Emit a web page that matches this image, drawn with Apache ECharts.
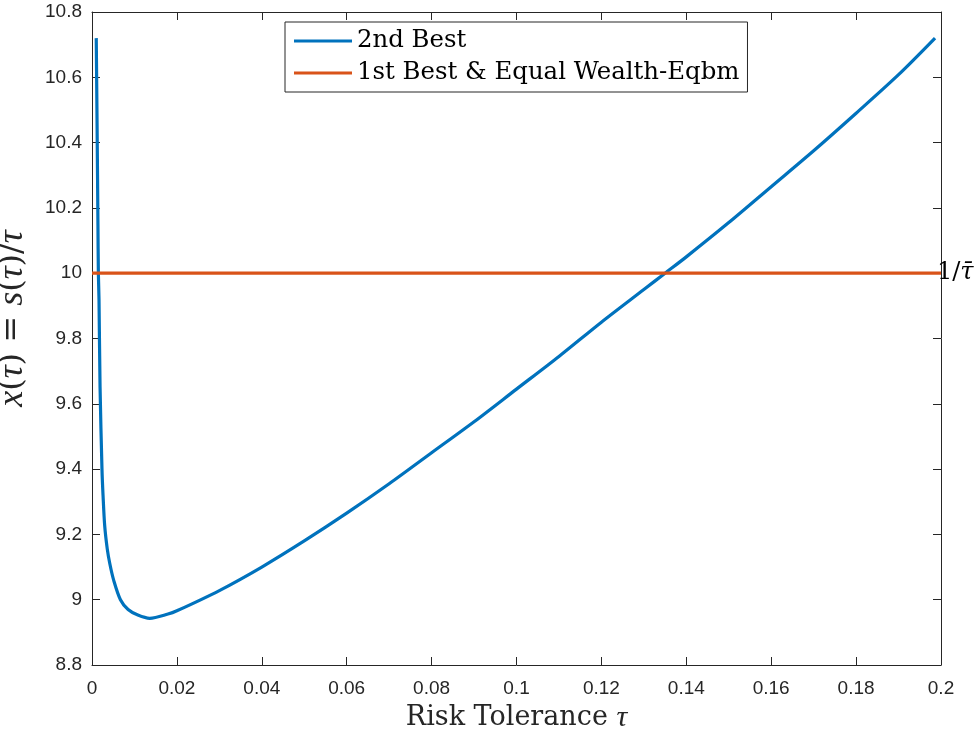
<!DOCTYPE html>
<html>
<head>
<meta charset="utf-8">
<script src="https://cdn.jsdelivr.net/npm/echarts@6/dist/echarts.min.js"></script>
<style>
  html, body { margin: 0; padding: 0; background: #fff; }
  #chart { width: 980px; height: 730px; }
</style>
</head>
<body>
<div id="chart"></div>
<script>
// values
var tau = [0.001, 0.0012, 0.0014, 0.0015, 0.00165, 0.0019, 0.00235, 0.0026, 0.003, 0.0036, 0.0042, 0.0051, 0.0067,
  0.0085, 0.0108, 0.0136, 0.0179, 0.02, 0.03, 0.04, 0.05, 0.06, 0.07, 0.08, 0.09, 0.1, 0.11, 0.12, 0.13, 0.135,
  0.14, 0.15, 0.16, 0.17, 0.18, 0.19, 0.1986];
var secondBest = [10.72, 10.45, 10.15, 10.0, 9.92, 9.65, 9.4, 9.32, 9.225, 9.155, 9.11, 9.06, 9.0,
  8.97, 8.953, 8.943, 8.956, 8.966, 9.028, 9.1, 9.18, 9.265, 9.355, 9.45, 9.545, 9.645, 9.745, 9.85, 9.95, 10.0,
  10.05, 10.155, 10.265, 10.375, 10.49, 10.608, 10.72];
var firstBestTau = [0, 0.2];
var firstBest = [10, 10];

var seriesNames = ['2nd Best', '1st Best & Equal Wealth-Eqbm'];

var ink = '#262626';
var serif = '"DejaVu Serif", "Liberation Serif", serif';
var mathIt = '"Liberation Serif", serif';

function pairs(xs, ys) {
  return xs.map(function (x, i) { return [x, ys[i]]; });
}
function fmt(v) {
  return String(parseFloat(v.toFixed(3)));
}

var chart = echarts.init(document.getElementById('chart'));

var axisCommon = {
  axisLine: { show: true, onZero: false, lineStyle: { color: ink, width: 1 } },
  axisTick: { show: true, inside: true, length: 8, lineStyle: { color: ink } },
  splitLine: { show: false }
};

chart.setOption({
  animation: false,
  grid: { left: 92, right: 39, top: 12, bottom: 65, containLabel: false, outerBoundsMode: 'none' },
  legend: {
    orient: 'vertical',
    left: 285,
    top: 22,
    data: seriesNames,
    icon: 'rect',
    itemWidth: 58,
    itemHeight: 3,
    itemGap: 8,
    padding: [7, 8, 7, 9],
    backgroundColor: '#fff',
    borderColor: ink,
    borderWidth: 1,
    borderRadius: 0,
    textStyle: { fontFamily: serif, fontSize: 24.4, color: '#000' }
  },
  xAxis: [
    Object.assign({
      type: 'value', min: 0, max: 0.2, interval: 0.02, position: 'bottom',
      name: '{n|Risk Tolerance }{i|τ}', nameLocation: 'middle', nameGap: 38,
      nameTextStyle: {
        rich: {
          n: { fontFamily: serif, fontSize: 27, color: ink },
          i: { fontFamily: mathIt, fontStyle: 'italic', fontSize: 30, color: ink }
        }
      },
      axisLabel: { color: ink, fontSize: 19, fontFamily: 'Liberation Sans, Arial', margin: 14, formatter: fmt }
    }, axisCommon),
    Object.assign({
      type: 'value', min: 0, max: 0.2, interval: 0.02, position: 'top',
      axisLabel: { show: false }
    }, axisCommon)
  ],
  yAxis: [
    Object.assign({
      type: 'value', min: 8.8, max: 10.8, interval: 0.2, position: 'left',
      name: '{i|x}{n|(}{i|τ}{n|) = }{i|s}{n|(}{i|τ}{n|)/}{i|τ}',
      nameLocation: 'middle', nameGap: 61, nameRotate: 90,
      nameTextStyle: {
        color: ink,
        padding: [0, 0, 0, 40],
        rich: {
          i: { fontFamily: mathIt, fontStyle: 'italic', fontSize: 36, color: ink },
          n: { fontFamily: serif, fontSize: 32, color: ink }
        }
      },
      axisLabel: { color: ink, fontSize: 19, fontFamily: 'Liberation Sans, Arial', margin: 10, formatter: fmt }
    }, axisCommon),
    Object.assign({
      type: 'value', min: 8.8, max: 10.8, interval: 0.2, position: 'right',
      axisLabel: { show: false }
    }, axisCommon)
  ],
  series: [
    {
      name: seriesNames[0],
      type: 'line',
      data: pairs(tau, secondBest),
      showSymbol: false,
      smooth: 0.3,
      lineStyle: { color: '#0072BD', width: 3.2, join: 'round' },
      itemStyle: { color: '#0072BD' },
      z: 2
    },
    {
      name: seriesNames[1],
      type: 'line',
      data: pairs(firstBestTau, firstBest),
      showSymbol: false,
      lineStyle: { color: '#D95319', width: 3.2 },
      itemStyle: { color: '#D95319' },
      z: 3,
      endLabel: {
        show: true,
        distance: -4,
        formatter: '{n|1/}{i|τ̄}',
        rich: {
          n: { fontFamily: serif, fontSize: 24, color: '#000' },
          i: { fontFamily: '"DejaVu Serif", serif', fontStyle: 'italic', fontSize: 24, color: '#000' }
        }
      }
    }
  ]
});
</script>
</body>
</html>
